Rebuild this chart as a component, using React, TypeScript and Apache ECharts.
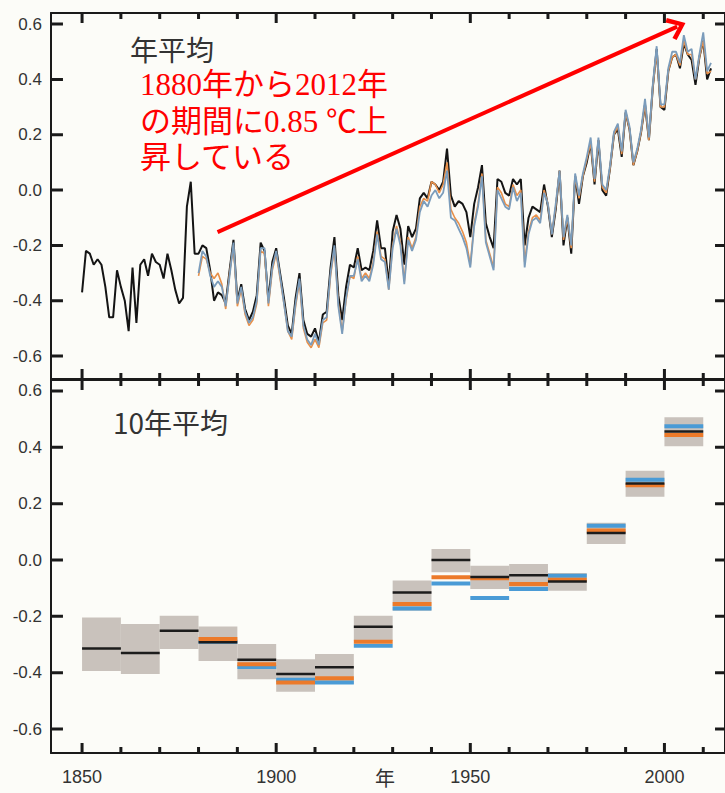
import React, { useEffect, useRef } from "react";
import * as echarts from "echarts";

// ---------- Annual global mean temperature anomaly (°C) ----------
const blackStartYear = 1850;
const colorStartYear = 1880;

const annualBlack = [
  -0.37, -0.22, -0.23, -0.27, -0.25, -0.27, -0.35, -0.46, -0.46, -0.29,
  -0.35, -0.40, -0.51, -0.28, -0.48, -0.27, -0.25, -0.31, -0.23, -0.26,
  -0.27, -0.32, -0.23, -0.29, -0.36, -0.41, -0.39, -0.06, 0.03, -0.23,
  -0.23, -0.20, -0.21, -0.29, -0.40, -0.37, -0.38, -0.41, -0.29, -0.18,
  -0.40, -0.34, -0.43, -0.47, -0.44, -0.38, -0.19, -0.22, -0.40, -0.26,
  -0.21, -0.30, -0.39, -0.49, -0.52, -0.39, -0.30, -0.47, -0.52, -0.53,
  -0.50, -0.55, -0.45, -0.44, -0.28, -0.17, -0.38, -0.47, -0.35, -0.27,
  -0.28, -0.21, -0.29, -0.28, -0.29, -0.22, -0.11, -0.21, -0.21, -0.34,
  -0.15, -0.09, -0.14, -0.27, -0.13, -0.17, -0.14, -0.03, -0.01, -0.03,
  0.03, 0.02, 0.00, 0.03, 0.15, -0.02, -0.06, -0.04, -0.05, -0.08,
  -0.17, -0.05, 0.01, 0.09, -0.12, -0.17, -0.21, 0.04, 0.03, -0.01,
  -0.02, 0.04, 0.02, 0.04, -0.20, -0.10, -0.06, -0.07, -0.08, 0.02,
  -0.06, -0.17, -0.07, 0.07, -0.20, -0.10, -0.23, 0.05, -0.05, 0.05,
  0.10, 0.17, 0.02, 0.18, 0.00, -0.02, 0.08, 0.20, 0.22, 0.12,
  0.28, 0.22, 0.09, 0.14, 0.21, 0.31, 0.18, 0.37, 0.51, 0.30,
  0.29, 0.43, 0.48, 0.49, 0.44, 0.53, 0.49, 0.47, 0.38, 0.48,
  0.54, 0.40, 0.44,
];

const annualOrange = [
  -0.31, -0.24, -0.25, -0.30, -0.32, -0.30, -0.34, -0.43, -0.30, -0.20,
  -0.42, -0.36, -0.45, -0.49, -0.47, -0.41, -0.22, -0.23, -0.42, -0.29,
  -0.23, -0.32, -0.41, -0.51, -0.54, -0.42, -0.33, -0.50, -0.55, -0.57,
  -0.54, -0.57, -0.48, -0.47, -0.31, -0.21, -0.41, -0.51, -0.40, -0.31,
  -0.32, -0.24, -0.32, -0.30, -0.32, -0.26, -0.15, -0.24, -0.25, -0.36,
  -0.20, -0.13, -0.19, -0.33, -0.17, -0.21, -0.17, -0.06, -0.03, -0.04,
  0.03, 0.02, -0.01, 0.02, 0.10, -0.07, -0.10, -0.12, -0.15, -0.19,
  -0.27, -0.12, -0.05, 0.06, -0.18, -0.23, -0.28, 0.01, -0.01, -0.05,
  -0.06, 0.02, -0.02, 0.00, -0.26, -0.15, -0.10, -0.09, -0.11, 0.00,
  -0.05, -0.16, -0.06, 0.07, -0.18, -0.10, -0.21, 0.05, -0.03, 0.05,
  0.11, 0.17, 0.03, 0.18, 0.01, -0.01, 0.08, 0.20, 0.23, 0.13,
  0.28, 0.22, 0.09, 0.14, 0.21, 0.31, 0.18, 0.37, 0.50, 0.30,
  0.30, 0.43, 0.48, 0.49, 0.45, 0.54, 0.49, 0.49, 0.40, 0.48,
  0.54, 0.42, 0.43,
];

const annualBlue = [
  -0.30, -0.22, -0.24, -0.31, -0.35, -0.33, -0.35, -0.42, -0.31, -0.19,
  -0.41, -0.35, -0.44, -0.48, -0.46, -0.40, -0.21, -0.21, -0.41, -0.28,
  -0.22, -0.31, -0.41, -0.51, -0.53, -0.41, -0.32, -0.49, -0.54, -0.56,
  -0.52, -0.56, -0.47, -0.46, -0.30, -0.20, -0.42, -0.52, -0.39, -0.31,
  -0.31, -0.25, -0.33, -0.31, -0.33, -0.27, -0.16, -0.25, -0.26, -0.36,
  -0.21, -0.14, -0.20, -0.34, -0.18, -0.22, -0.18, -0.08, -0.04, -0.06,
  -0.02, 0.00, -0.03, -0.01, 0.07, -0.10, -0.11, -0.14, -0.17, -0.21,
  -0.28, -0.13, -0.06, 0.05, -0.19, -0.24, -0.29, 0.00, -0.03, -0.06,
  -0.07, 0.01, -0.04, -0.01, -0.28, -0.16, -0.11, -0.10, -0.12, -0.01,
  -0.05, -0.16, -0.05, 0.07, -0.17, -0.09, -0.20, 0.06, -0.02, 0.06,
  0.12, 0.19, 0.04, 0.19, 0.02, 0.00, 0.09, 0.21, 0.24, 0.14,
  0.29, 0.23, 0.10, 0.15, 0.22, 0.33, 0.19, 0.38, 0.52, 0.31,
  0.31, 0.44, 0.50, 0.50, 0.46, 0.56, 0.50, 0.51, 0.40, 0.49,
  0.57, 0.43, 0.46,
];

// ---------- Decadal means (°C) ----------
const decadeStarts = [1850, 1860, 1870, 1880, 1890, 1900, 1910, 1920, 1930, 1940, 1950, 1960, 1970, 1980, 1990, 2000];
const decadeEnds = [1860, 1870, 1880, 1890, 1900, 1910, 1920, 1930, 1940, 1950, 1960, 1970, 1980, 1990, 2000, 2010];
const decadeBoxLow = [-0.394, -0.405, -0.316, -0.358, -0.423, -0.468, -0.44, -0.287, -0.18, -0.043, -0.103, -0.109, -0.109, 0.057, 0.225, 0.404];
const decadeBoxHigh = [-0.204, -0.227, -0.198, -0.236, -0.298, -0.352, -0.334, -0.198, -0.073, 0.039, -0.02, -0.014, -0.046, 0.132, 0.317, 0.507];
const decadeBlack = [-0.314, -0.33, -0.251, -0.292, -0.354, -0.405, -0.381, -0.237, -0.115, 0.0, -0.06, -0.054, -0.076, 0.096, 0.272, 0.456];
const decadeOrange = [null, null, null, -0.28, -0.37, -0.435, -0.42, -0.29, -0.156, -0.061, -0.065, -0.085, -0.07, 0.105, 0.265, 0.444];
const decadeBlue = [null, null, null, -0.29, -0.38, -0.425, -0.435, -0.304, -0.172, -0.083, -0.135, -0.103, -0.056, 0.122, 0.285, 0.475];

// ---------- Ticks and tick labels ----------
const xMinorTickYears = [1850, 1860, 1870, 1880, 1890, 1900, 1910, 1920, 1930, 1940, 1950, 1960, 1970, 1980, 1990, 2000, 2010];
const xTickValues = [1850, 1900, 1950, 2000];
const xTickLabels = ["1850", "1900", "1950", "2000"];
const yTickValues = [-0.6, -0.4, -0.2, 0, 0.2, 0.4, 0.6];
const yTickLabels = ["-0.6", "-0.4", "-0.2", "0.0", "0.2", "0.4", "0.6"];

// ---------- Texts ----------
const topPanelTitle = "年平均";
const bottomPanelTitle = "10年平均";
const xAxisTitle = "年";
const noteLines = ["1880年から2012年", "の期間に0.85 ℃上", "昇している"];
const arrowFrom = [1884.9, -0.152];
const arrowTo = [2003.3, 0.591];

const X_MIN = 1842;
const X_MAX = 2015.6;
const TOP_RANGE = [-0.683, 0.64];
const BOTTOM_RANGE = [-0.685, 0.639];
const AXIS_COLOR = "#1a1a1a";
const LABEL_COLOR = "#333";
const SANS = '"Liberation Sans", Arial, sans-serif';
const CJK = '"Noto Sans CJK JP", sans-serif';
const SERIF_CJK = '"Liberation Serif", "Times New Roman", "Noto Sans CJK JP", serif';

function xAxisDef(gridIndex: number, position: string, showLabel: boolean) {
  return {
    type: "value",
    gridIndex,
    position,
    min: X_MIN,
    max: X_MAX,
    minInterval: 50,
    maxInterval: 50,
    splitNumber: 4,
    axisLine: { show: true, onZero: false, lineStyle: { color: AXIS_COLOR, width: 2 } },
    axisTick: { show: false },
    axisLabel: {
      show: showLabel,
      showMinLabel: false,
      showMaxLabel: false,
      margin: 15,
      fontSize: 18,
      color: LABEL_COLOR,
      fontFamily: SANS,
      formatter: (v: number) => {
        const i = xTickValues.findIndex((t) => Math.abs(t - v) < 1e-6);
        return i >= 0 ? xTickLabels[i] : "";
      },
    },
    splitLine: { show: false },
  };
}

function yAxisDef(gridIndex: number, position: string, range: number[], showLabel: boolean) {
  return {
    type: "value",
    gridIndex,
    position,
    min: range[0],
    max: range[1],
    minInterval: 0.2,
    maxInterval: 0.2,
    splitNumber: 7,
    axisLine: { show: true, onZero: false, lineStyle: { color: AXIS_COLOR, width: 2 } },
    axisTick: { show: false },
    axisLabel: {
      show: showLabel,
      showMinLabel: false,
      showMaxLabel: false,
      margin: 9,
      fontSize: 17,
      color: LABEL_COLOR,
      fontFamily: SANS,
      formatter: (v: number) => {
        const i = yTickValues.findIndex((t) => Math.abs(t - v) < 1e-6);
        return i >= 0 ? yTickLabels[i] : "";
      },
    },
    splitLine: { show: false },
  };
}

// Tick marks as a broken polyline series in each panel's data units
function tickLineSeries(axisIndex: number, range: number[], plotHeight: number) {
  const pxPerUnitY = plotHeight / (range[1] - range[0]);
  const pxPerYear = 676 / (X_MAX - X_MIN);
  const data: any[] = [];
  const seg = (a: number[], b: number[]) => {
    data.push(a, b, [a[0], "-"]);
  };
  xMinorTickYears.forEach((yr) => {
    const len = (xTickValues.includes(yr) ? 10 : 6) / pxPerUnitY;
    seg([yr, range[0]], [yr, range[0] + len]);
    seg([yr, range[1]], [yr, range[1] - len]);
  });
  yTickValues.forEach((v) => {
    seg([X_MIN, v], [X_MIN + 12 / pxPerYear, v]);
    seg([X_MAX, v], [X_MAX - 10 / pxPerYear, v]);
  });
  return {
    type: "line",
    xAxisIndex: axisIndex,
    yAxisIndex: axisIndex,
    data,
    showSymbol: false,
    symbol: "none",
    connectNulls: false,
    clip: false,
    silent: true,
    z: 8,
    lineStyle: { color: AXIS_COLOR, width: 3 },
  };
}

function annualSeries(values: number[], start: number, color: string, width: number, z: number, extra: any = {}) {
  return {
    type: "line",
    xAxisIndex: 0,
    yAxisIndex: 0,
    data: values.map((v, i) => [start + i, v]),
    showSymbol: false,
    symbol: "none",
    lineStyle: { color, width },
    z,
    silent: true,
    ...extra,
  };
}

function decadeLineSeries(values: (number | null)[], color: string, width: number, z: number) {
  const data: number[][] = [];
  values.forEach((v, i) => {
    if (v != null) data.push([decadeStarts[i], decadeEnds[i], v]);
  });
  return {
    type: "custom",
    xAxisIndex: 2,
    yAxisIndex: 2,
    z,
    silent: true,
    data,
    encode: { x: [0, 1], y: 2 },
    renderItem: (_p: any, api: any) => {
      const a = api.coord([api.value(0), api.value(2)]);
      const b = api.coord([api.value(1), api.value(2)]);
      return {
        type: "line",
        shape: { x1: a[0], y1: a[1], x2: b[0], y2: b[1] },
        style: { stroke: color, lineWidth: width },
      };
    },
  };
}

const textElements = [
  {
    type: "text",
    x: 130,
    y: 49,
    silent: true,
    style: { text: topPanelTitle, fontSize: 28, fill: "#333", fontFamily: CJK, verticalAlign: "middle" },
  },
  {
    type: "text",
    x: 113,
    y: 422,
    silent: true,
    style: { text: bottomPanelTitle, fontSize: 28, fill: "#333", fontFamily: CJK, verticalAlign: "middle" },
  },
  {
    type: "text",
    x: 385,
    y: 767,
    silent: true,
    style: { text: xAxisTitle, fontSize: 20, fill: "#333", fontFamily: CJK, align: "center", verticalAlign: "top" },
  },
  ...noteLines.map((t, i) => ({
    type: "text",
    x: 140,
    y: [84, 121, 157][i],
    silent: true,
    style: { text: t, fontSize: 31, fill: "#ff0000", fontFamily: SERIF_CJK, verticalAlign: "middle" },
  })),
];

export default function App() {
  const ref = useRef<HTMLDivElement>(null);

  useEffect(() => {
    if (!ref.current) return;
    const chart = echarts.init(ref.current, null, { renderer: "svg" });

    const boxData = decadeStarts.map((s, i) => [s, decadeEnds[i], decadeBoxLow[i], decadeBoxHigh[i]]);

    const option: any = {
      animation: false,
      backgroundColor: "#fcfcf8",
      textStyle: { fontFamily: SANS },
      grid: [
        { left: 51, top: 13, width: 676, height: 366, containLabel: false },
        { left: 51, top: 380, width: 676, height: 373, containLabel: false },
      ],
      xAxis: [
        xAxisDef(0, "bottom", false),
        xAxisDef(0, "top", false),
        xAxisDef(1, "bottom", true),
        xAxisDef(1, "top", false),
      ],
      yAxis: [
        yAxisDef(0, "left", TOP_RANGE, true),
        yAxisDef(0, "right", TOP_RANGE, false),
        yAxisDef(1, "left", BOTTOM_RANGE, true),
        yAxisDef(1, "right", BOTTOM_RANGE, false),
      ],
      series: [
        annualSeries(annualBlack, blackStartYear, "#141414", 2, 2),
        annualSeries(annualOrange, colorStartYear, "#e8904a", 1.6, 3),
        annualSeries(annualBlue, colorStartYear, "#7b9cbb", 1.8, 4, {
          markLine: {
            silent: true,
            symbol: ["none", "path://M10 0 L20 13 L17 15.5 L10 6 L3 15.5 L0 13 Z"],
            symbolSize: [24, 18],
            lineStyle: { color: "#ff0000", width: 4, type: "solid" },
            label: { show: false },
            emphasis: { disabled: true },
            data: [[{ coord: arrowFrom }, { coord: arrowTo }]],
            z: 10,
          },
        }),
        {
          type: "custom",
          xAxisIndex: 2,
          yAxisIndex: 2,
          z: 1,
          silent: true,
          data: boxData,
          encode: { x: [0, 1], y: [2, 3] },
          renderItem: (_p: any, api: any) => {
            const a = api.coord([api.value(0), api.value(3)]);
            const b = api.coord([api.value(1), api.value(2)]);
            return {
              type: "rect",
              shape: { x: a[0], y: a[1], width: b[0] - a[0], height: b[1] - a[1] },
              style: { fill: "#c9c2bc" },
            };
          },
        },
        decadeLineSeries(decadeBlue, "#4a9bd6", 4, 2),
        decadeLineSeries(decadeOrange, "#ec7a2a", 4, 3),
        decadeLineSeries(decadeBlack, "#1c1c1c", 2.5, 4),
        tickLineSeries(0, TOP_RANGE, 366),
        tickLineSeries(2, BOTTOM_RANGE, 373),
      ],
      graphic: textElements,
    };

    chart.setOption(option);
    return () => chart.dispose();
  }, []);

  return (
    <div
      ref={ref}
      style={{ position: "fixed", left: 0, top: 0, width: 725, height: 793, background: "#fcfcf8" }}
    />
  );
}
